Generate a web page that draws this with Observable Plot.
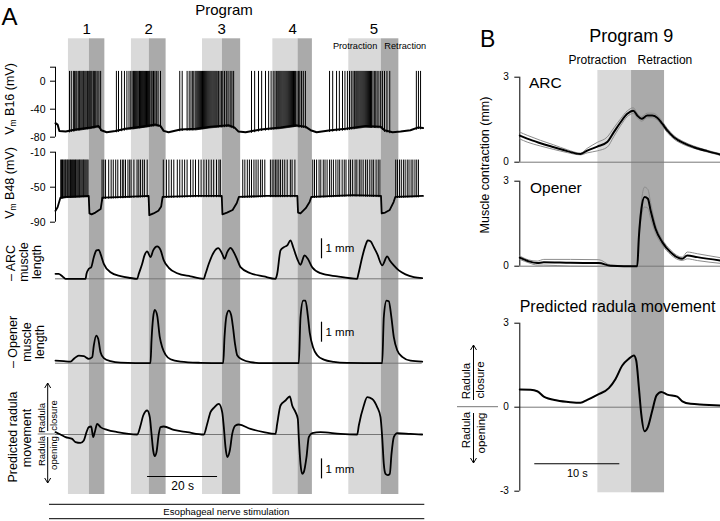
<!DOCTYPE html>
<html><head><meta charset="utf-8">
<script src="https://cdn.jsdelivr.net/npm/d3@7"></script>
<script src="https://cdn.jsdelivr.net/npm/@observablehq/plot@0.6"></script>
<style>
body{margin:0;background:#fff;}
#fig{position:relative;width:720px;height:521px;overflow:hidden;background:#fff;font-family:"Liberation Sans",Arial,sans-serif;}
#fig svg{position:absolute;left:0;top:0;}
.vlab{position:absolute;white-space:nowrap;font-size:12.5px;line-height:1;transform:translate(-50%,-50%) rotate(-90deg);}
.vlab sub{font-size:8.5px;vertical-align:-2px;line-height:0;}
</style></head><body><div id="fig"></div>
<script>
// ---------- Panel A data (time in s) ----------
const programs = ["1","2","3","4","5"];
const protStart = [3.7, 21.7, 42.0, 62.1, 83.8];
const retStart  = [9.7, 26.8, 47.7, 69.3, 93.1];
const retEnd    = [14.1, 31.6, 52.9, 73.4, 98.1];

const b16Ticks = [20, 0, -40, -80];
const b48Ticks = [-10, -50, -90];
const b16Peak = 14;
const b48Peak = -19;

const b16Base = [[0,-60],[0.6,-62],[1.1,-71],[2.9,-72],[5.7,-69],[10,-66],[12.3,-64],[13.1,-70],[14.6,-73],[17.1,-71],[20,-68],[24.3,-65],[28.6,-62],[30,-64],[30.9,-71],[32.3,-73],[35.7,-69],[40,-68],[44.3,-65],[49.4,-63],[51.1,-66],[52.3,-72],[54.3,-73],[58.6,-69],[64.3,-66],[68.6,-63],[71.4,-65],[72.9,-70],[74.6,-73],[78.6,-70],[82.9,-68],[88.6,-64],[92.9,-65],[94,-70],[96.3,-73],[98.6,-72],[101.4,-70],[103.7,-66],[105,-67]];
const b16Spikes = [
 4.0,4.5,5.1,5.4,5.8,6.1,6.5,6.8,7.0,7.3,7.6,7.9,8.1,8.4,8.7,9.0,9.2,9.5,9.8,10.1,10.4,10.8,11.1,11.5,11.9,12.4,12.9,
 17.4,18.0,18.9,19.7,20.4,21.0,21.5,21.9,22.3,22.6,22.9,23.2,23.5,23.8,24.0,24.3,24.6,24.9,25.1,25.4,25.7,26.0,26.3,26.6,26.9,27.3,27.6,28.0,28.4,28.8,29.3,30.0,
 35.5,36.2,37.6,38.2,38.7,39.1,39.5,39.9,40.2,40.5,40.8,41.1,41.4,41.7,42.0,42.3,42.6,42.9,43.2,43.5,43.8,44.1,44.4,44.7,45.0,45.3,45.6,45.9,46.2,46.6,47.0,47.4,47.8,48.3,48.8,49.3,49.9,50.4,50.9,
 56.0,56.9,58.0,58.9,60.0,60.9,61.6,62.2,62.7,63.1,63.5,63.8,64.1,64.4,64.7,65.0,65.3,65.6,65.9,66.2,66.5,66.8,67.1,67.4,67.7,68.0,68.3,68.6,69.0,69.4,69.8,70.3,70.8,71.4,
 78.3,79.2,80.3,81.1,82.0,82.7,83.4,84.0,84.5,85.0,85.4,85.8,86.1,86.4,86.7,87.0,87.3,87.6,87.9,88.2,88.5,88.8,89.1,89.4,89.7,90.0,90.3,90.7,91.1,91.5,91.9,92.4,92.9,93.4,94.0,94.7,95.5,
 103.1,103.7,104.3];

const b48Base = [[0,-77],[0.6,-73],[1.4,-62],[3,-61],[9.5,-60],[9.7,-80],[10.3,-81],[11.4,-79],[12.9,-75],[13.4,-62],[20,-61],[26.6,-60],[26.8,-82],[28,-80],[29.4,-77],[30.2,-72],[30.6,-61],[40,-60],[47.5,-60],[47.7,-81],[49,-79],[50.6,-76],[51.8,-68],[52.4,-61],[60,-60],[69.1,-60],[69.3,-79],[70,-80],[71.5,-74],[72.6,-67],[73.1,-61],[85,-59],[93,-60],[93.2,-80],[94.2,-79],[95.5,-76],[96.6,-67],[97.1,-61],[105,-60]];
const b48Spikes = [
 1.5,1.7,2.0,2.2,2.5,2.8,3.0,3.3,3.5,3.8,4.1,4.3,4.6,4.9,5.1,5.4,5.7,5.9,6.2,6.5,6.8,7.0,7.3,7.6,7.9,8.1,8.4,8.7,9.0,9.3,
 13.3,13.8,14.3,15.2,15.9,16.5,17.2,17.8,18.6,19.1,19.5,20.0,20.7,21.2,21.6,22.4,23.3,23.8,24.3,24.9,25.4,26.2,
 30.8,31.7,32.4,33.1,33.8,34.8,35.5,36.2,36.9,37.6,38.6,39.3,40.0,40.9,41.6,42.4,43.1,43.8,44.5,45.2,46.0,46.7,47.1,
 53.5,54.1,54.8,55.4,56.0,56.7,57.3,57.9,58.6,59.1,59.8,61.4,61.9,62.4,62.9,63.3,63.8,64.3,64.9,65.5,66.2,67.1,67.6,68.4,
 73.5,74.0,74.6,75.3,75.8,76.5,77.0,77.6,78.3,78.8,79.4,80.1,80.7,81.2,81.9,82.5,83.0,83.8,84.3,84.9,85.6,86.1,86.8,87.3,87.9,88.6,89.1,89.8,90.4,90.9,91.6,92.2,92.7,
 97.2,97.7,98.3,98.8,99.4,99.9,100.5,101.0,101.6,102.1,102.7,103.2,103.7];

const arcA = [[0,0.25],[0.86,0.25],[2.0,0.12],[2.86,0],[8.57,0],[8.86,0.25],[9.51,0.5],[10.2,0.58],[10.94,1.08],[11.71,1.42],[12.37,1.45],[12.86,1.25],[13.8,0.75],[15.71,0.33],[18.57,0.13],[21.43,0.04],[23.34,0],[23.8,0.25],[24.77,0.75],[25.43,1.17],[26.2,1.37],[27.14,1.08],[27.91,1.42],[29.06,1.62],[30.0,1.45],[30.94,0.92],[32.37,0.55],[34.77,0.28],[38.57,0.12],[42.37,0],[42.86,0.25],[43.8,0.75],[45.23,1.33],[46.49,1.53],[47.63,1.25],[48.29,1.0],[49.06,1.33],[50.0,1.55],[50.94,1.33],[52.0,0.92],[52.86,0.58],[55.71,0.28],[59.51,0.12],[62.86,0],[63.34,0.25],[64.29,1.42],[65.23,1.58],[66.2,1.67],[67.14,1.92],[67.91,1.58],[69.06,1.0],[70.0,0.7],[71.14,1.17],[72.09,1.0],[73.34,0.58],[75.71,0.28],[80.49,0.12],[86.2,0],[86.49,0.2],[87.63,1.08],[88.57,1.67],[89.23,1.92],[90.0,1.88],[90.94,1.58],[91.91,1.25],[93.34,0.67],[94.77,1.12],[95.51,0.92],[96.66,0.67],[98.09,0.42],[100.0,0.22],[102.37,0.08],[104.77,0.03]];

const openerA = [[0,0.13],[2.37,0.1],[4.29,0.08],[5.43,0.25],[6.66,0.38],[8.09,0.35],[9.51,0.22],[10.49,0.3],[10.94,0.88],[11.63,1.38],[12.2,1.22],[12.86,0.55],[13.8,0.25],[15.71,0.1],[18.57,0.03],[27.14,0],[27.43,1.13],[27.91,2.3],[28.37,2.67],[29.06,2.38],[29.8,1.3],[30.49,0.8],[31.43,0.43],[32.86,0.2],[35.71,0.08],[41.43,0.02],[47.91,0],[48.29,1.3],[48.86,2.38],[49.51,2.63],[50.2,2.4],[50.71,1.8],[51.29,0.97],[51.91,0.4],[53.34,0.18],[55.71,0.05],[59.51,0],[69.51,0],[70.0,2.3],[70.77,3.13],[71.43,3.13],[72.09,2.38],[72.66,1.5],[73.63,0.77],[74.77,0.4],[76.66,0.18],[79.51,0.07],[83.34,0.02],[93.34,0],[93.8,2.3],[94.57,3.13],[95.23,3.1],[95.91,2.38],[96.66,1.3],[97.63,0.65],[99.06,0.32],[101.43,0.13],[104.77,0.08]];

const radulaA = [[0,0.12],[1.43,0],[2.86,-0.13],[4.77,-0.22],[5.71,-0.38],[7.14,-0.42],[8.09,-0.3],[8.86,0.12],[9.51,0.37],[10.2,0.4],[10.77,-0.13],[11.23,0.12],[11.91,0.53],[12.86,0.37],[14.77,0.23],[17.63,0.12],[23.34,0],[24.29,0.45],[25.06,0.95],[26.2,1.2],[26.94,0.87],[27.43,0.03],[27.91,-0.8],[28.37,-1.08],[28.86,-0.88],[29.51,0.03],[30.0,0.37],[30.94,0.4],[33.8,0.23],[37.63,0.12],[42.37,0],[43.34,0.53],[44.29,1.12],[45.23,1.33],[46.66,1.53],[47.63,1.12],[48.09,0.37],[48.57,-0.63],[49.06,-1.13],[49.8,-0.8],[50.49,0.03],[51.43,0.45],[52.37,0.5],[55.71,0.28],[59.51,0.12],[62.86,0.03],[63.34,0.53],[64.29,1.45],[65.71,1.7],[66.94,1.9],[67.63,1.45],[68.57,1.12],[69.23,0.78],[69.51,-0.13],[70.0,-1.47],[70.49,-1.97],[70.94,-1.88],[71.71,-1.13],[72.37,-0.13],[73.34,0.07],[75.71,0.12],[81.43,0.03],[86.2,0],[86.66,0.45],[88.09,1.45],[89.06,1.87],[90.49,1.78],[91.91,1.37],[92.86,0.87],[93.34,-0.13],[93.8,-1.47],[94.29,-1.97],[94.94,-2.03],[95.51,-1.97],[96.0,-0.97],[96.66,-0.13],[97.63,0.07],[101.43,0.03],[104.77,0]];

// scale bars (data units)
const timeBarA = [26.3, 46.3];   // 20 s
const mmBarT = 76;
const arcBar = [1, 2], openerBar = [1.05, 2.05], radulaBar = [-2.22, -1.22];

// ---------- Panel B data ----------
const programB = "Program 9";
const protStartB = 9.18, retStartB = 13.14, retEndB = 17.02;
const tArcB = [0,0.87,2.44,4.0,5.58,7.14,7.93,9.11,10.28,11.06,11.85,12.64,13.34,13.81,14.32,14.99,15.58,16.16,16.75,17.34,18.12,19.29,20.47,22.05,23.6];
const arcB = [0.94,0.83,0.67,0.53,0.39,0.29,0.41,0.55,0.71,1.06,1.41,1.71,1.82,1.65,1.53,1.65,1.65,1.57,1.36,1.12,0.88,0.67,0.53,0.39,0.27];
const arcSemB = [0.12,0.12,0.1,0.08,0.05,0.03,0.08,0.15,0.18,0.15,0.12,0.1,0.1,0.08,0.08,0.08,0.08,0.08,0.08,0.07,0.06,0.05,0.04,0.03,0.03];
const tOpB = [0,1.06,2.05,2.82,5.96,9.29,10.67,13.81,14.0,14.28,14.67,15.06,15.38,15.96,16.75,17.73,19.11,19.69,20.87,23.6];
const opB = [0.3,0.17,0.11,0.14,0.12,0.11,0.02,0.0,1.02,1.97,2.44,2.38,1.97,1.32,0.85,0.49,0.26,0.38,0.32,0.2];
const opSemB = [0.06,0.05,0.07,0.1,0.12,0.12,0.02,0.0,0.12,0.25,0.35,0.33,0.28,0.15,0.1,0.08,0.06,0.12,0.12,0.1];
const tRadB = [0,1.26,2.05,2.82,4.4,5.96,7.14,7.93,9.11,10.47,11.26,12.05,12.82,13.41,13.69,14.0,14.28,14.67,15.06,15.58,16.08,16.64,17.34,18.52,19.11,20.08,21.65,23.6];
const radB = [0.63,0.62,0.57,0.38,0.24,0.18,0.16,0.26,0.44,0.68,1.01,1.49,1.73,1.85,1.67,0.71,-0.24,-0.86,-0.71,-0.12,0.42,0.54,0.45,0.38,0.21,0.12,0.09,0.06];
const ticksB3 = [0, 3], ticksBRad = [-3, 0, 3];
const timeBarB = [1.76, 11.76]; // 10 s

// ---------- drawing ----------
const W = 720, H = 521;
const FONT = '"Liberation Sans", Arial, sans-serif';
const LIGHT = "#d9d9d9", DARK = "#aaaaaa", BASE = "#777";
const fig = document.getElementById("fig");
function layer(o) {
  const svg = Plot.plot({
    width: W, height: H,
    marginLeft: o.x[0], marginRight: W - o.x[1],
    marginTop: o.mt ?? 0, marginBottom: o.mb ?? 0,
    x: {domain: o.xd, range: o.x, axis: null, label: null},
    y: o.yd ? {domain: o.yd, range: o.y, axis: null, label: null} : {axis: null},
    marks: o.marks,
    style: {position: "absolute", left: "0px", top: "0px", background: "transparent", overflow: "visible", fontFamily: FONT, color: "black"}
  });
  fig.appendChild(svg);
}
const xA = [55, 426], xdA = [0, 106];
const xB = [519.3, 720], xdB = [0, 23.6];
const endA = d3.max(arcA, d => d[0]);
const idx = programs.map((_, i) => i);

// bands A
layer({x: xA, xd: xdA, mt: 38.3, mb: H - 494, marks: [
  Plot.rect(idx, {x1: i => protStart[i], x2: i => retStart[i], fill: LIGHT}),
  Plot.rect(idx, {x1: i => retStart[i], x2: i => retEnd[i], fill: DARK}),
  Plot.text(programs, {x: (d, i) => (protStart[i] + retEnd[i]) / 2, text: d => d, frameAnchor: "top", lineAnchor: "bottom", dy: -5, fontSize: 15}),
  Plot.text(["Protraction"], {x: () => retStart[4], text: d => d, frameAnchor: "top", lineAnchor: "bottom", textAnchor: "end", dx: -4, dy: 9.7, fontSize: 9.2}),
  Plot.text(["Retraction"], {x: () => retStart[4], text: d => d, frameAnchor: "top", lineAnchor: "bottom", textAnchor: "start", dx: 3, dy: 9.7, fontSize: 9.2})
]});
// bands B
layer({x: xB, xd: xdB, mt: 70, mb: H - 492.3, marks: [
  Plot.rect([0], {x1: () => protStartB, x2: () => retStartB, fill: LIGHT}),
  Plot.rect([0], {x1: () => retStartB, x2: () => retEndB, fill: DARK}),
  Plot.text([programB], {x: () => (protStartB + retEndB) / 2, text: d => d, frameAnchor: "top", lineAnchor: "bottom", dy: -28.3, fontSize: 18}),
  Plot.text(["Protraction"], {x: () => retStartB, text: d => d, frameAnchor: "top", lineAnchor: "bottom", textAnchor: "end", dx: -5, dy: -7, fontSize: 12}),
  Plot.text(["Retraction"], {x: () => retStartB, text: d => d, frameAnchor: "top", lineAnchor: "bottom", textAnchor: "start", dx: 6, dy: -7, fontSize: 12})
]});

// B16
const b16f = d3.scaleLinear().domain(b16Base.map(d => d[0])).range(b16Base.map(d => d[1]));
layer({x: xA, xd: xdA, yd: [-80, 20], y: [136.7, 66.7], marks: [
  Plot.ruleX([0], {y1: () => d3.min(b16Ticks), y2: () => d3.max(b16Ticks), strokeWidth: 1}),
  Plot.axisY({ticks: b16Ticks, tickFormat: d => d === 20 ? "" : String(d), anchor: "left", label: null, tickSize: 5, tickPadding: 5, fontSize: 10.5}),
  Plot.line(b16Base, {x: d => d[0], y: d => d[1], strokeWidth: 2}),
  Plot.ruleX(b16Spikes, {x: d => d, y1: d => b16f(d) - 3, y2: () => b16Peak, strokeWidth: 1})
]});
// B48
const b48f = d3.scaleLinear().domain(b48Base.map(d => d[0])).range(b48Base.map(d => d[1]));
layer({x: xA, xd: xdA, yd: [-90, -10], y: [221.7, 151.7], marks: [
  Plot.ruleX([0], {y1: () => -90, y2: () => -10, strokeWidth: 1}),
  Plot.axisY({ticks: b48Ticks, tickFormat: d => String(d), anchor: "left", label: null, tickSize: 5, tickPadding: 5, fontSize: 10.5}),
  Plot.line(b48Base, {x: d => d[0], y: d => d[1], strokeWidth: 1.8}),
  Plot.ruleX(b48Spikes, {x: d => d, y1: d => b48f(d) - 2, y2: () => b48Peak, strokeWidth: 1})
]});
// A muscle/radula traces
function traceA(data, y, bar) {
  layer({x: xA, xd: xdA, yd: [0, 2], y, marks: [
    Plot.ruleY([0], {x1: () => 0, x2: () => endA, stroke: BASE, strokeWidth: 1}),
    Plot.line(data, {x: d => d[0], y: d => d[1], strokeWidth: 1.8, curve: "monotone-x"}),
    Plot.ruleX([mmBarT], {y1: () => bar[0], y2: () => bar[1], strokeWidth: 1.2}),
    Plot.text(["1 mm"], {x: () => mmBarT, y: () => (bar[0] + bar[1]) / 2, text: d => d, textAnchor: "start", lineAnchor: "middle", dx: 4, fontSize: 11.5})
  ]});
}
traceA(arcA, [278.3, 238.3], arcBar);
traceA(openerA, [362.7, 322.7], openerBar);
traceA(radulaA, [434, 394], radulaBar);
// 20 s bar
layer({x: xA, xd: xdA, yd: [0, 2], y: [434, 394], marks: [
  Plot.ruleY([-2.1], {x1: () => timeBarA[0], x2: () => timeBarA[1], strokeWidth: 1.2}),
  Plot.text(["20 s"], {x: () => (timeBarA[0] + timeBarA[1]) / 2, y: () => -2.75, text: d => d, lineAnchor: "bottom", fontSize: 12})
]});

// Panel B traces
function traceB(t, m, sem, yd, y, ticks) {
  const rows = t.map((tt, i) => ({t: tt, m: m[i], s: sem ? sem[i] : 0}));
  const marks = [
    Plot.ruleY([0], {x1: () => 0, x2: () => xdB[1], stroke: BASE, strokeWidth: 1}),
    Plot.ruleX([0], {y1: () => d3.min(ticks), y2: () => d3.max(ticks), strokeWidth: 1}),
    Plot.axisY({ticks, tickFormat: d => String(d), anchor: "left", label: null, tickSize: 5, tickPadding: 6, fontSize: 10})
  ];
  if (sem) {
    marks.push(Plot.line(rows, {x: d => d.t, y: d => d.m + d.s, stroke: "#8c8c8c", strokeWidth: 1, curve: "monotone-x"}));
    marks.push(Plot.line(rows, {x: d => d.t, y: d => d.m - d.s, stroke: "#8c8c8c", strokeWidth: 1, curve: "monotone-x"}));
  }
  marks.push(Plot.line(rows, {x: d => d.t, y: d => d.m, strokeWidth: 2, curve: "monotone-x"}));
  layer({x: xB, xd: xdB, yd, y, marks});
}
traceB(tArcB, arcB, arcSemB, [0, 3], [161.7, 76.7], ticksB3);
traceB(tOpB, opB, opSemB, [0, 3], [265.7, 180.7], ticksB3);
traceB(tRadB, radB, null, [-3, 3], [490.7, 322.7], ticksBRad);
layer({x: xB, xd: xdB, yd: [-3, 3], y: [490.7, 322.7], marks: [
  Plot.ruleY([-2.02], {x1: () => timeBarB[0], x2: () => timeBarB[1], strokeWidth: 1.2}),
  Plot.text(["10 s"], {x: () => (timeBarB[0] + timeBarB[1]) / 2, y: () => -2.5, text: d => d, lineAnchor: "bottom", fontSize: 11})
]});

// ---------- annotations ----------
function rot(x, y, size, content) {
  return `<text transform="translate(${x},${y}) rotate(-90)" text-anchor="middle" dy="0.35em" font-size="${size}">${content}</text>`;
}
function arrow(x, y1, y2) {
  const d = y2 < y1 ? 1 : -1;
  return `<path d="M${x},${y1}V${y2}M${x-3},${y2+5*d}L${x},${y2}L${x+3},${y2+5*d}" fill="none" stroke="#000" stroke-width="1"/>`;
}
const ann = `
<svg width="${W}" height="${H}" xmlns="http://www.w3.org/2000/svg" style="position:absolute;left:0;top:0;font-family:${FONT.replace(/"/g,"'")}">
<text x="1.5" y="25" font-size="24">A</text>
<text x="224" y="14.5" font-size="15" text-anchor="middle">Program</text>
<text x="480" y="46.7" font-size="23">B</text>
${rot(11, 263, 12.5, "– ARC")}${rot(24, 262, 12.5, "muscle")}${rot(37, 262, 12.5, "length")}
${rot(13, 342, 12.5, "– Opener")}${rot(27, 342, 12.5, "muscle")}${rot(39.5, 342, 12.5, "length")}
${rot(13, 437, 12.5, "Predicted radula")}${rot(26.5, 438, 12.5, "movement")}
${rot(42, 418, 9.5, "Radula")}${rot(53.5, 415.5, 9.5, "closure")}
${rot(42, 451, 9.5, "Radula")}${rot(53.5, 453, 9.5, "opening")}
${arrow(47.7, 431, 383)}${arrow(47.7, 437, 483)}
<line x1="37.7" x2="55" y1="434" y2="434" stroke="${BASE}" stroke-width="1"/>
${rot(485, 165, 12.5, "Muscle contraction (mm)")}
<text x="529" y="88" font-size="15.5">ARC</text>
<text x="530" y="193.3" font-size="15.5">Opener</text>
<text x="617.5" y="311.7" font-size="16" text-anchor="middle">Predicted radula movement</text>
${rot(466, 381, 11.5, "Radula")}${rot(480, 380, 11.5, "closure")}
${rot(466, 430, 11.5, "Radula")}${rot(481, 433, 11.5, "opening")}
${arrow(473.5, 400, 345)}${arrow(473.5, 413, 463)}
<line x1="457" x2="498" y1="406.7" y2="406.7" stroke="${BASE}" stroke-width="1"/>
<line x1="49" x2="424.3" y1="504.3" y2="504.3" stroke="#000" stroke-width="1"/>
<line x1="49" x2="424.3" y1="518.7" y2="518.7" stroke="#000" stroke-width="1"/>
<text x="226.3" y="514.5" font-size="9.6" text-anchor="middle">Esophageal nerve stimulation</text>
</svg>
<div class="vlab" style="left:10px;top:99px">V<sub>m</sub> B16 (mV)</div>
<div class="vlab" style="left:10px;top:183px">V<sub>m</sub> B48 (mV)</div>`;
fig.insertAdjacentHTML("beforeend", ann);
</script></body></html>
